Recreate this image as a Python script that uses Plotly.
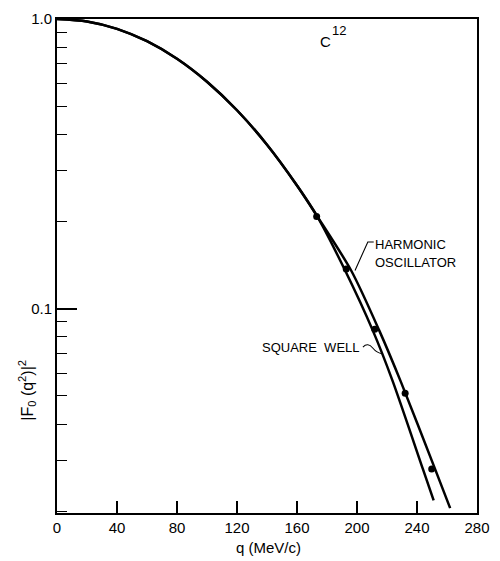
import plotly.graph_objects as go

# Form factor |F0(q^2)|^2 of C12: the two model curves share the low-q part
q_common = [0, 20, 40, 60, 80, 100, 120, 140, 160]
f_common = [1.0, 0.9806, 0.9247, 0.8380, 0.7288, 0.6072, 0.4842, 0.3683, 0.2664]

q_square = [173.1, 192.1, 210.5, 223.6, 243.9, 251.1]
f_square = [0.210, 0.1355, 0.0842, 0.0566, 0.0280, 0.0218]

q_harm = [173.1, 196.1, 214.8, 229.4, 252.0, 262.1]
f_harm = [0.210, 0.1355, 0.0842, 0.0557, 0.0280, 0.0205]

# Measured points
q_data = [173.1, 192.8, 211.8, 232.1, 249.8]
f_data = [0.208, 0.137, 0.085, 0.0511, 0.0280]

x_ticks = [0, 40, 80, 120, 160, 200, 240, 280]
y_major = [0.1, 1.0]
y_major_text = ["0.1", "1.0"]
y_minor = [0.02, 0.03, 0.04, 0.05, 0.06, 0.07, 0.08, 0.09,
           0.2, 0.3, 0.4, 0.5, 0.6, 0.7, 0.8, 0.9]

FONT = "Liberation Sans, Arial, sans-serif"
W, H = 500, 561
L, R, T, B = 57, 16, 10, 48


def fx(x):
    return (x - L) / (W - L - R)


def fy(y):
    return (H - B - y) / (H - T - B)


fig = go.Figure()
line_style = dict(color="black", width=2.5, shape="spline", smoothing=0.8)
fig.add_trace(go.Scatter(x=q_common + q_square, y=f_common + f_square,
                         mode="lines", line=line_style, name="Square well"))
fig.add_trace(go.Scatter(x=q_common + q_harm, y=f_common + f_harm,
                         mode="lines", line=line_style, name="Harmonic oscillator"))
fig.add_trace(go.Scatter(x=q_data, y=f_data, mode="markers",
                         marker=dict(color="black", size=7), name="data"))

ann_font = dict(family=FONT, size=13, color="black")
annotations = [
    dict(x=fx(330), y=fy(33), xref="paper", yref="paper", text="C",
         showarrow=False, xanchor="center", yanchor="middle",
         font=dict(family=FONT, size=15, color="black")),
    dict(x=fx(344), y=fy(22), xref="paper", yref="paper", text="12",
         showarrow=False, xanchor="center", yanchor="middle",
         font=dict(family=FONT, size=13, color="black")),
    dict(x=fx(378), y=fy(240), xref="paper", yref="paper", text="HARMONIC",
         showarrow=False, xanchor="left", yanchor="middle", font=ann_font),
    dict(x=fx(378), y=fy(258), xref="paper", yref="paper", text="OSCILLATOR",
         showarrow=False, xanchor="left", yanchor="middle", font=ann_font),
    dict(x=fx(263), y=fy(344), xref="paper", yref="paper", text="SQUARE&nbsp;&nbsp;WELL",
         showarrow=False, xanchor="left", yanchor="middle", font=ann_font),
    dict(x=fx(272), y=fy(548), xref="paper", yref="paper", text="q (MeV/c)",
         showarrow=False, xanchor="center", yanchor="middle",
         font=dict(family=FONT, size=15, color="black")),
    dict(x=fx(27), y=fy(388), xref="paper", yref="paper",
         text="|F<sub>0</sub> (q<sup>2</sup>)|<sup>2</sup>", textangle=-90,
         showarrow=False, xanchor="center", yanchor="middle",
         font=dict(family=FONT, size=16, color="black")),
]

shapes = [
    # leader to the harmonic oscillator curve
    dict(type="path", xref="paper", yref="paper",
         path=f"M {fx(379)} {fy(237)} L {fx(373)} {fy(237)} L {fx(360)} {fy(266)}",
         line=dict(color="black", width=1.1)),
    # leader to the square well curve
    dict(type="path", xref="paper", yref="paper",
         path=(f"M {fx(368)} {fy(344)} Q {fx(373)} {fy(339)} {fx(378)} {fy(345)} "
               f"Q {fx(382)} {fy(350)} {fx(388)} {fy(351)}"),
         line=dict(color="black", width=1.1)),
]

fig.update_layout(
    width=W, height=H,
    margin=dict(l=L, r=R, t=T, b=B),
    paper_bgcolor="white", plot_bgcolor="white",
    showlegend=False,
    annotations=annotations,
    shapes=shapes,
    font=dict(family=FONT, size=15, color="black"),
)

fig.update_xaxes(
    range=[0, 280], tickvals=x_ticks, ticks="inside", ticklen=12, tickwidth=1.5,
    tickcolor="black", showline=True, linecolor="black", linewidth=1.8,
    mirror=True, showgrid=False, zeroline=False,
    tickfont=dict(family=FONT, size=15, color="black"),
)
fig.update_yaxes(
    type="log", range=[-1.705, 0], tickvals=y_major, ticktext=y_major_text,
    ticks="inside", ticklen=20, tickwidth=1.5, tickcolor="black",
    minor=dict(tickvals=y_minor, ticks="inside", ticklen=10, tickwidth=1.3,
               tickcolor="black", showgrid=False),
    showline=True, linecolor="black", linewidth=1.8, mirror=True,
    showgrid=False, zeroline=False,
    tickfont=dict(family=FONT, size=15, color="black"),
)

fig.write_html("out.html")
